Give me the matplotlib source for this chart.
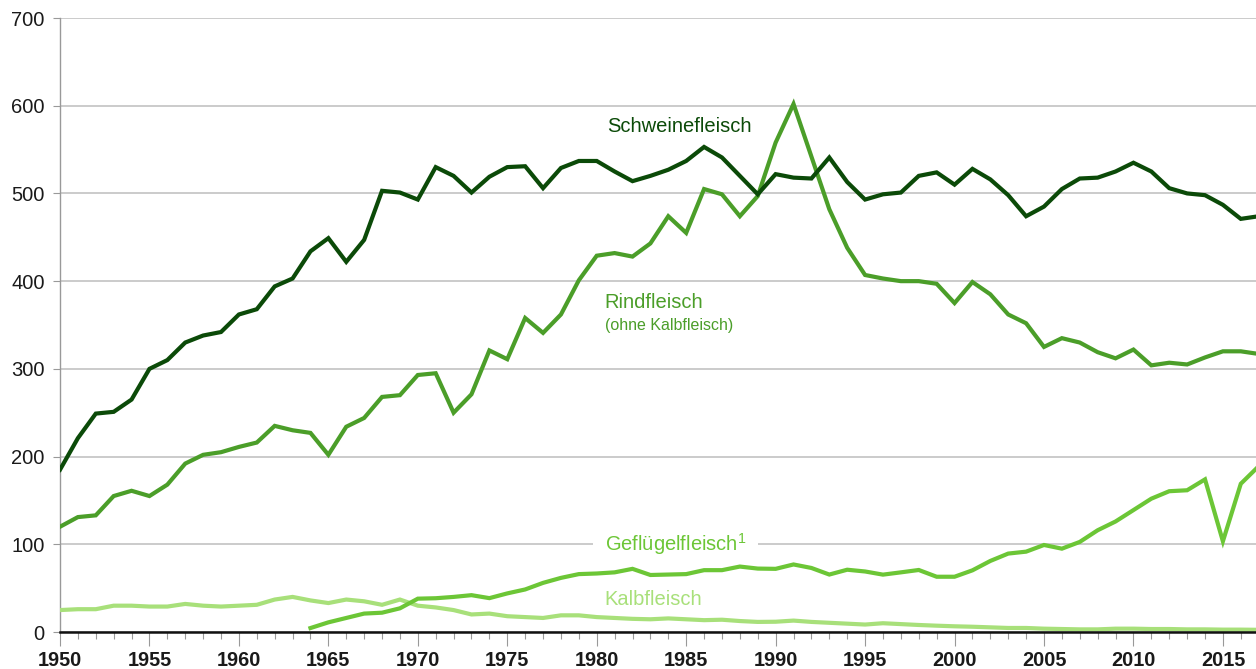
import numpy as np
from matplotlib import pyplot as plt

years = list(range(1950, 2018))
years_gefluegel = list(range(1964, 2018))

schwein = [185, 221, 249, 251, 265, 300, 310, 330, 338, 342,
           362, 368, 394, 403, 434, 449, 422, 447, 503, 501,
           493, 530, 520, 501, 519, 530, 531, 506, 529, 537,
           537, 525, 514, 520, 527, 537, 553, 541, 520, 499,
           522, 518, 517, 541, 513, 493, 499, 501, 520, 524,
           510, 528, 516, 498, 474, 485, 505, 517, 518, 525,
           535, 525, 506, 500, 498, 487, 471, 474]

rind = [120, 131, 133, 155, 161, 155, 168, 192, 202, 205,
        211, 216, 235, 230, 227, 202, 234, 244, 268, 270,
        293, 295, 250, 271, 321, 311, 358, 341, 362, 401,
        429, 432, 428, 443, 474, 455, 505, 499, 474, 497,
        558, 602, 542, 482, 438, 407, 403, 400, 400, 397,
        375, 399, 385, 362, 352, 325, 335, 330, 319, 312,
        322, 304, 307, 305, 313, 320, 320, 317]

gefluegel = [4.5, 11, 16, 21, 22, 27,
             38, 38.5, 40, 42, 38.6, 44, 48.5, 56, 61.7, 66,
             66.7, 68, 72, 65, 65.5, 66, 70.5, 70.5, 74.6, 72.3,
             72, 77, 73, 65.5, 71, 69, 65.4, 68, 70.7, 63,
             63, 70.3, 81, 89.4, 91.6, 99.2, 95, 102.7, 116, 126,
             139, 152, 160.5, 161.6, 174, 103.4, 169, 189]

kalb = [25, 26, 26, 30, 30, 29, 29, 32, 30, 29,
        30, 31, 37, 40, 36, 33, 37, 35, 31, 37,
        30, 28, 25, 20, 21, 18, 17, 16, 19, 19,
        17, 16, 15, 14.5, 15.5, 14.5, 13.5, 14, 12.5, 11.5,
        11.7, 13, 11.5, 10.5, 9.5, 8.5, 10, 9, 8, 7.2,
        6.5, 6, 5.3, 4.6, 4.6, 3.8, 3.4, 3, 3, 3.8,
        3.8, 3.4, 3.4, 3, 3, 2.7, 2.7, 2.5]

c_schwein = '#0b4a08'
c_rind = '#4b9e29'
c_gefluegel = '#6cc636'
c_kalb = '#a8e07a'

plt.rcParams['font.family'] = ['Liberation Sans', 'DejaVu Sans']
plt.rcParams['mathtext.fontset'] = 'custom'
plt.rcParams['mathtext.rm'] = 'Liberation Sans'

fig = plt.figure(figsize=(12.56, 6.69), dpi=100)
ax = fig.add_axes([60 / 1256, 37 / 669, 1 - 60 / 1256, 614 / 669])

ax.plot(years, kalb, color=c_kalb, lw=3, zorder=3, solid_joinstyle='miter')
ax.plot(years_gefluegel, gefluegel, color=c_gefluegel, lw=3, zorder=3, solid_joinstyle='miter')
ax.plot(years, rind, color=c_rind, lw=3, zorder=3, solid_joinstyle='miter')
ax.plot(years, schwein, color=c_schwein, lw=3, zorder=3, solid_joinstyle='miter')

ax.set_xlim(1950, 2016.85)
ax.set_ylim(0, 700)

ax.set_yticks(np.arange(0, 701, 100))
ax.set_xticks(np.arange(1950, 2016, 5))
ax.set_xticks(np.arange(1950, 2017, 1), minor=True)

ax.grid(axis='y', color='#bdbdbd', lw=1.1, zorder=1)
ax.set_axisbelow(True)

for side in ['top', 'right']:
    ax.spines[side].set_visible(False)
ax.spines['left'].set_color('#999999')
ax.spines['left'].set_linewidth(1)
ax.spines['bottom'].set_color('#111111')
ax.spines['bottom'].set_linewidth(1.8)
ax.spines['bottom'].set_zorder(4)

ax.tick_params(axis='y', length=5, width=0.8, color='#999999', pad=6,
               labelsize=14.5, labelcolor='#1a1a1a')
ax.tick_params(axis='x', which='major', length=10, width=0.8, color='#999999',
               pad=4, labelsize=14.3, labelcolor='#1a1a1a')
ax.tick_params(axis='x', which='minor', length=5, width=0.8, color='#999999')
for lbl in ax.get_xticklabels():
    lbl.set_fontweight('bold')

ax.text(1984.6, 576, 'Schweinefleisch', color=c_schwein, fontsize=14.5,
        ha='center', va='center')
ax.text(1980.45, 376, 'Rindfleisch', color=c_rind, fontsize=14.5,
        ha='left', va='center')
ax.text(1980.45, 349, '(ohne Kalbfleisch)', color=c_rind, fontsize=11.5,
        ha='left', va='center')
ax.text(1980.45, 100, 'Geflügelfleisch$^{1}$', color=c_gefluegel, fontsize=14.5,
        ha='left', va='center', zorder=2,
        bbox=dict(boxstyle='square,pad=0.6', fc='white', ec='none'))
ax.text(1980.45, 36.5, 'Kalbfleisch', color=c_kalb, fontsize=14.5,
        ha='left', va='center')

fig.savefig('out.png', dpi=100)
